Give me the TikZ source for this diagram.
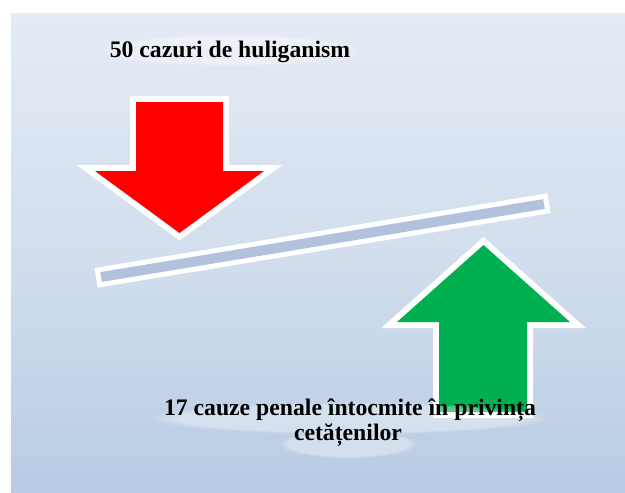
\documentclass[tikz,border=0pt]{standalone}
\usepackage{fontspec}
\setmainfont{Liberation Serif}
\usetikzlibrary{fadings}
\definecolor{bgtop}{HTML}{F6F8FC}
\definecolor{bgmid}{HTML}{D2DEED}
\definecolor{bgmid2}{HTML}{B3C7E1}
\definecolor{bgbot}{HTML}{C2D3E9}
\definecolor{arrowred}{HTML}{FF0000}
\definecolor{arrowgreen}{HTML}{00B050}
\definecolor{barblue}{HTML}{B3C2DC}
\pgfdeclareverticalshading{bgshade}{100bp}{color(0bp)=(bgbot); color(20bp)=(bgmid2); color(50bp)=(bgmid); color(100bp)=(bgtop)}
\tikzset{
  outline/.style={draw=white, line width=12pt, line join=miter},
  outlinethin/.style={draw=white, line width=10pt, line join=miter},
  lbl/.style={inner sep=0pt, anchor=base, font=\fontsize{23.7}{25}\selectfont\bfseries, text=black},
  halo/.style={fill=white, opacity=0.35, path fading=circle with fuzzy edge 15 percent}
}
\begin{document}
\begin{tikzpicture}[x=1pt,y=-1pt]
\useasboundingbox (0,0) rectangle (625,493);
% background
\shade[shading=bgshade] (11,13) rectangle (625,493);
% red arrow (down)
\path[outline] (136,102) -- (223,102) -- (223,171) -- (264,171) -- (179.5,233) -- (95,171) -- (136,171) -- cycle;
\fill[arrowred] (136,102) -- (223,102) -- (223,171) -- (264,171) -- (179.5,233) -- (95,171) -- (136,171) -- cycle;
% balance bar
\path[outlinethin] (100.2,272.1) -- (543.2,199.1) -- (544.8,208.9) -- (101.8,281.9) -- cycle;
\fill[barblue] (100.2,272.1) -- (543.2,199.1) -- (544.8,208.9) -- (101.8,281.9) -- cycle;
% green arrow (up)
\path[outline] (439,412) -- (439,322) -- (397,322) -- (483.5,245) -- (570,322) -- (527,322) -- (527,412) -- cycle;
\fill[arrowgreen] (439,412) -- (439,322) -- (397,322) -- (483.5,245) -- (570,322) -- (527,322) -- (527,412) -- cycle;
% soft halos behind texts
\fill[halo] (230,50) ellipse (132 and 16);
\fill[halo] (350,418) ellipse (200 and 16);
\fill[halo] (348,444) ellipse (70 and 14);
% labels
\node[lbl] (top) at (230,57) {50 cazuri de huliganism};
\node[lbl] (bot1) at (350,415) {17 cauze penale întocmite în privința};
\node[lbl] (bot2) at (348,440) {cetățenilor};
\end{tikzpicture}
\end{document}
